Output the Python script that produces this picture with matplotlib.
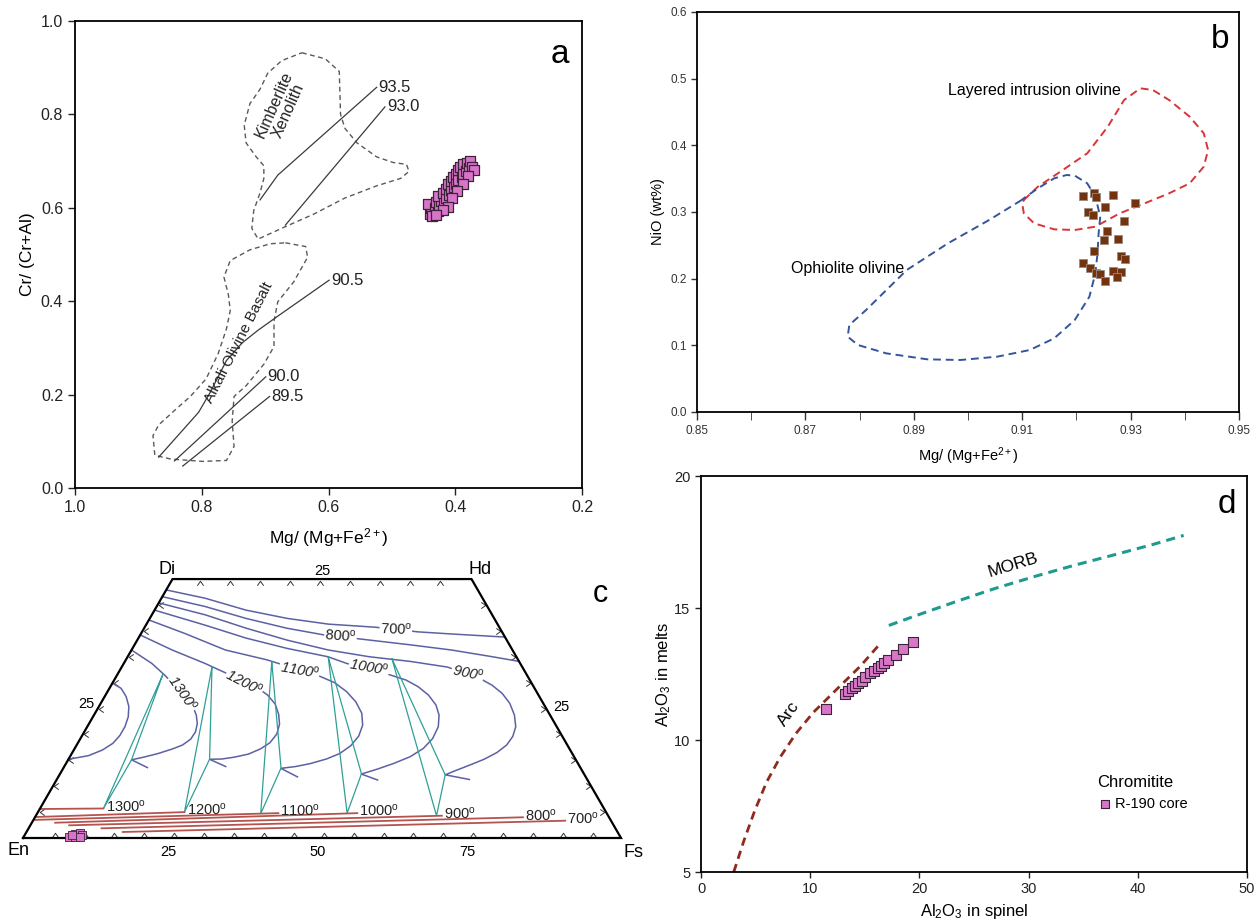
import numpy as np
import matplotlib.pyplot as plt
from matplotlib.path import Path
from matplotlib.markers import MarkerStyle
from matplotlib.transforms import Affine2D

plt.rcParams['font.family'] = ['Liberation Sans', 'DejaVu Sans']
plt.rcParams['mathtext.fontset'] = 'custom'
plt.rcParams['mathtext.rm'] = 'Liberation Sans'
plt.rcParams['mathtext.it'] = 'Liberation Sans:italic'

W, H = 1259, 924

# ---------------- panel a : spinel Cr# vs Mg# ----------------
a_mg = [0.440, 0.435, 0.438, 0.443, 0.432, 0.428, 0.431, 0.425, 0.422, 0.428, 0.418,
        0.420, 0.415, 0.415, 0.410, 0.412, 0.407, 0.407, 0.402, 0.404, 0.399, 0.399,
        0.395, 0.395, 0.390, 0.392, 0.387, 0.387, 0.383, 0.381, 0.378, 0.376, 0.373,
        0.371, 0.380, 0.388, 0.397, 0.405, 0.412, 0.420, 0.437, 0.430]
a_cr = [0.587, 0.590, 0.600, 0.608, 0.600, 0.593, 0.613, 0.605, 0.615, 0.626, 0.612,
        0.632, 0.620, 0.640, 0.628, 0.650, 0.638, 0.657, 0.645, 0.665, 0.652, 0.673,
        0.660, 0.680, 0.665, 0.687, 0.672, 0.693, 0.678, 0.697, 0.685, 0.700, 0.688,
        0.680, 0.668, 0.652, 0.636, 0.621, 0.602, 0.596, 0.582, 0.584]

kimb_x = [0.642, 0.605, 0.583, 0.581, 0.574, 0.555, 0.524, 0.498, 0.477, 0.473, 0.486,
          0.524, 0.574, 0.624, 0.674, 0.711, 0.721, 0.718, 0.708, 0.702, 0.702, 0.714,
          0.730, 0.733, 0.724, 0.708, 0.696, 0.674, 0.642]
kimb_y = [0.932, 0.919, 0.892, 0.800, 0.770, 0.739, 0.709, 0.697, 0.693, 0.678, 0.663,
          0.647, 0.621, 0.586, 0.556, 0.533, 0.556, 0.594, 0.632, 0.663, 0.690, 0.709,
          0.739, 0.777, 0.823, 0.854, 0.888, 0.915, 0.932]

aob_x = [0.668, 0.636, 0.633, 0.655, 0.680, 0.686, 0.686, 0.702, 0.730, 0.749, 0.752,
         0.749, 0.761, 0.799, 0.849, 0.874, 0.877, 0.868, 0.843, 0.818, 0.793, 0.774,
         0.761, 0.755, 0.758, 0.765, 0.755, 0.724, 0.692, 0.668]
aob_y = [0.525, 0.517, 0.494, 0.441, 0.399, 0.357, 0.303, 0.265, 0.219, 0.196, 0.143,
         0.089, 0.059, 0.057, 0.062, 0.070, 0.112, 0.135, 0.166, 0.196, 0.234, 0.288,
         0.341, 0.380, 0.414, 0.452, 0.487, 0.510, 0.523, 0.525]

iso_labels = ['93.5', '93.0', '90.5', '90.0', '89.5']
iso_x = [[0.708, 0.680, 0.524],
         [0.668, 0.511],
         [0.868, 0.805, 0.787, 0.761, 0.736, 0.711, 0.680, 0.599],
         [0.843, 0.699],
         [0.830, 0.693]]
iso_y = [[0.617, 0.670, 0.858],
         [0.563, 0.816],
         [0.066, 0.162, 0.204, 0.273, 0.311, 0.338, 0.368, 0.445],
         [0.058, 0.238],
         [0.047, 0.196]]

# ---------------- panel b : olivine NiO vs Fo ----------------
b_mg = [0.9212, 0.9233, 0.9237, 0.9267, 0.9309, 0.9253, 0.9222, 0.9231, 0.9288, 0.9257,
        0.9251, 0.9277, 0.9232, 0.9282, 0.9290, 0.9213, 0.9226, 0.9237, 0.9244, 0.9268,
        0.9282, 0.9274, 0.9253]
b_nio = [0.324, 0.329, 0.322, 0.3255, 0.314, 0.307, 0.3005, 0.2955, 0.287, 0.272,
         0.258, 0.259, 0.242, 0.234, 0.230, 0.224, 0.2155, 0.209, 0.2075, 0.2115,
         0.2105, 0.203, 0.197]

layered_x = [0.9103, 0.9129, 0.9175, 0.9220, 0.9258, 0.9288, 0.9318, 0.9341, 0.9371,
             0.9409, 0.9435, 0.9443, 0.9435, 0.9409, 0.9371, 0.9326, 0.9280, 0.9235,
             0.9197, 0.9159, 0.9122, 0.9103, 0.9100, 0.9103]
layered_y = [0.318, 0.338, 0.363, 0.388, 0.428, 0.468, 0.4855, 0.483, 0.468, 0.443,
             0.418, 0.393, 0.368, 0.343, 0.328, 0.313, 0.298, 0.278, 0.273, 0.274,
             0.283, 0.298, 0.313, 0.318]

ophio_x = [0.9099, 0.9039, 0.8963, 0.8887, 0.8812, 0.8781, 0.8778, 0.8797, 0.8849, 0.8925,
           0.8986, 0.9054, 0.9114, 0.9159, 0.9197, 0.9224, 0.9235, 0.9239, 0.9241, 0.9244,
           0.9235, 0.9220, 0.9197, 0.9182, 0.9159, 0.9129, 0.9107, 0.9099]
ophio_y = [0.318, 0.288, 0.253, 0.213, 0.153, 0.1305, 0.113, 0.1005, 0.088, 0.079,
           0.078, 0.083, 0.093, 0.1105, 0.138, 0.173, 0.208, 0.238, 0.268, 0.293,
           0.323, 0.343, 0.3545, 0.3555, 0.3505, 0.3355, 0.323, 0.318]

# ---------------- panel c : pyroxene quadrilateral (Fs, Wo in mol%) ----------------
temps = [700, 800, 900, 1000, 1100, 1200, 1300]
aug_fs = {700: [0, 7.3, 15.3, 23.0, 30.4, 38.6, 46.2, 51.9, 61.2],
          800: [0, 8.1, 16.1, 23.9, 30.8, 37.4, 46.1, 53.5, 61.0, 65.9],
          900: [0, 8.9, 17.1, 25.1, 32.9, 40.4, 47.7, 54.5, 61.0, 63.7, 66.2, 68.4, 70.3,
                71.65, 72.1, 71.9, 71.0, 69.5, 67.7, 65.8, 64.5, 69.0],
          1000: [0, 9.9, 18.0, 25.9, 33.5, 37.3, 45.6, 48.8, 51.5, 54.0, 56.2, 57.7, 58.7,
                 58.9, 58.3, 56.9, 54.8, 52.6, 50.4, 53.7],
          1100: [0, 7.3, 15.7, 23.6, 34.1, 37.1, 40.0, 42.5, 44.6, 45.9, 46.3, 45.9, 44.8,
                 43.1, 40.8, 38.7, 36.4, 40.0],
          1200: [0, 6.8, 13.6, 17.9, 24.9, 27.1, 29.2, 30.8, 31.9, 32.4, 32.1, 31.1, 29.6,
                 27.5, 25.6, 23.6, 27.0],
          1300: [0, 4.7, 7.9, 12.7, 15.7, 17.1, 18.1, 18.6, 18.5, 17.7, 16.4, 14.4, 12.35,
                 10.6, 14.0],
          1400: [0, 1.95, 3.6, 5.0, 5.9, 6.3, 6.3, 5.9, 4.8, 3.0, 0]}
aug_wo = {700: [47.9, 46.3, 44.0, 42.4, 41.3, 40.7, 39.8, 39.4, 38.8],
          800: [46.6, 44.7, 42.4, 40.5, 39.2, 38.4, 37.3, 36.3, 35.0, 34.1],
          900: [45.4, 43.1, 40.5, 38.2, 36.3, 35.0, 34.1, 33.0, 30.8, 29.5, 27.9, 26.0, 23.75,
                21.5, 19.6, 17.95, 16.5, 15.2, 14.1, 13.0, 12.2, 11.3],
          1000: [44.0, 41.1, 38.6, 36.6, 35.0, 33.7, 31.5, 30.5, 29.2, 27.6, 25.7, 23.75, 21.5,
                 19.2, 17.3, 15.7, 14.4, 13.3, 12.35, 11.2],
          1100: [42.1, 39.5, 36.3, 34.4, 31.2, 30.0, 28.25, 26.3, 24.1, 21.8, 19.7, 17.8, 16.3,
                 15.25, 14.35, 13.8, 13.45, 11.8],
          1200: [39.2, 36.3, 33.7, 31.9, 28.9, 27.6, 25.9, 23.9, 22.0, 20.1, 18.4, 17.2, 16.2,
                 15.6, 15.25, 15.2, 13.8],
          1300: [36.3, 33.7, 31.5, 27.9, 25.4, 23.75, 22.1, 20.5, 19.1, 17.95, 17.2, 16.3, 15.6,
                 15.1, 13.6],
          1400: [29.9, 28.9, 27.3, 25.4, 23.4, 21.5, 19.8, 18.3, 17.0, 15.9, 15.2]}
aug_label_pos = {700: (42.2, 40.3, -2), 800: (33.6, 39.0, -4), 900: (58.4, 31.9, -12),
                 1000: (41.4, 32.9, -10), 1100: (30.0, 32.5, -10), 1200: (22.0, 30.0, -27),
                 1300: (12.7, 27.9, -55)}

# tie triangles: augite top, augite vertex, orthopyroxene
tie_top = {1300: (7.6, 31.6), 1200: (15.1, 33.0), 1100: (24.6, 34.0), 1000: (33.6, 34.9), 900: (44.4, 34.6)}
tie_vtx = {1300: (10.6, 15.1), 1200: (23.6, 15.2), 1100: (36.4, 13.5), 1000: (50.4, 12.4), 900: (64.5, 12.2)}
tie_opx = {1300: (10.6, 5.7), 1200: (24.5, 5.0), 1100: (37.4, 4.7), 1000: (51.8, 4.8), 900: (67.0, 4.3)}

opx_fs = {1300: [0, 10.6], 1200: [0, 24.5], 1100: [0.2, 40.3], 1000: [3.9, 53.5],
          900: [6.5, 67.9], 800: [12.2, 81.6], 700: [16.1, 89.0]}
opx_wo = {1300: [5.6, 5.7], 1200: [4.05, 5.0], 1100: [3.5, 4.8], 1000: [2.95, 4.8],
          900: [2.45, 4.3], 800: [1.87, 4.0], 700: [1.16, 3.34]}

c_fs = [7.6, 8.3, 9.0, 9.6, 8.6, 9.4, 8.0]
c_wo = [0.2, 0.7, 0.9, 0.6, 0.1, 0.1, 0.5]

# ---------------- panel d : Al2O3 melt vs spinel ----------------
arc_x = [3.0, 3.9, 4.9, 6.0, 7.25, 8.7, 10.3, 12.5, 14.6, 16.3]
arc_y = [5.0, 6.15, 7.3, 8.4, 9.35, 10.25, 11.05, 11.95, 12.8, 13.6]
morb_x = [17.2, 19.75, 23.4, 27.0, 30.6, 34.2, 37.9, 41.5, 44.2]
morb_y = [14.34, 14.72, 15.25, 15.75, 16.2, 16.62, 17.02, 17.42, 17.75]
d_sp = [11.42, 13.19, 13.49, 13.80, 14.1, 14.4, 14.72, 15.02, 15.48, 15.87, 16.18,
        16.48, 16.79, 17.1, 17.86, 18.47, 19.38]
d_melt = [11.17, 11.74, 11.86, 11.97, 12.05, 12.16, 12.24, 12.37, 12.54, 12.63, 12.73,
          12.82, 12.92, 13.04, 13.23, 13.45, 13.73]

PINK = '#d875c9'
PINK_EDGE = '#3b2438'


def px_axes(left, top, right, bottom):
    return [left / W, (H - bottom) / H, (right - left) / W, (bottom - top) / H]


def style_axes(ax, lw=1.3):
    for s in ax.spines.values():
        s.set_linewidth(lw)
    ax.tick_params(direction='out', width=1.0)


def tern(fs, wo):
    fs = np.asarray(fs, dtype=float)
    wo = np.asarray(wo, dtype=float)
    return fs + wo / 2.0, wo * np.sqrt(3) / 2.0


fig = plt.figure(figsize=(W / 100, H / 100), dpi=100)

# ---- a ----
ax = fig.add_axes(px_axes(75, 21, 582, 488))
style_axes(ax)
dash_a = (0, (3.5, 2.5))
ax.plot(kimb_x, kimb_y, ls=dash_a, color='#5a5a5a', lw=1.0)
ax.plot(aob_x, aob_y, ls=dash_a, color='#5a5a5a', lw=1.0)
for lab, xs, ys in zip(iso_labels, iso_x, iso_y):
    ax.plot(xs, ys, color='#3a3a3a', lw=0.9)
    ax.text(xs[-1] - 0.003, ys[-1], lab, fontsize=12, ha='left', va='center', color='#222222')
ax.text(0.675, 0.815, 'Kimberlite\nXenolith', rotation=66, fontsize=11.5, ha='center',
        va='center', linespacing=1.0, color='#222222')
ax.text(0.742, 0.311, 'Alkali Olivine Basalt', rotation=63, fontsize=11, ha='center',
        va='center', color='#222222')
ax.scatter(a_mg, a_cr, marker='s', s=58, facecolor=PINK, edgecolor=PINK_EDGE,
           linewidth=0.9, zorder=3)
ax.set_xlim(1.0, 0.2)
ax.set_ylim(0.0, 1.0)
ax.set_xticks([1.0, 0.8, 0.6, 0.4, 0.2])
ax.set_yticks([0.0, 0.2, 0.4, 0.6, 0.8, 1.0])
ax.xaxis.set_major_formatter('{x:.1f}')
ax.yaxis.set_major_formatter('{x:.1f}')
ax.tick_params(labelsize=11.5, length=5, colors='#222222')
ax.set_xlabel('Mg/ (Mg+Fe$^{2+}$)', fontsize=12.5, labelpad=8)
ax.set_ylabel('Cr/ (Cr+Al)', fontsize=12.5, labelpad=4)
ax.text(0.957, 0.928, 'a', transform=ax.transAxes, fontsize=24, ha='center', va='center')

# ---- b ----
ax = fig.add_axes(px_axes(697, 12, 1239, 412))
style_axes(ax)
dash_b = (0, (4, 2.5))
ax.plot(layered_x, layered_y, ls=dash_b, color='#d8343a', lw=1.4)
ax.plot(ophio_x, ophio_y, ls=dash_b, color='#35549a', lw=1.4)
ax.scatter(b_mg, b_nio, marker='s', s=32, facecolor='#74330f', edgecolor='#9a8a80',
           linewidth=0.6, zorder=3)
ax.text(0.9122, 0.483, 'Layered intrusion olivine', fontsize=11.5, ha='center', va='center')
ax.text(0.8778, 0.2145, 'Ophiolite olivine', fontsize=11.5, ha='center', va='center')
ax.set_xlim(0.85, 0.95)
ax.set_ylim(0.0, 0.6)
ax.set_xticks([0.85, 0.87, 0.89, 0.91, 0.93, 0.95])
ax.set_xticks([0.86, 0.88, 0.90, 0.92, 0.94], minor=True)
ax.set_yticks([0.0, 0.1, 0.2, 0.3, 0.4, 0.5, 0.6])
ax.xaxis.set_major_formatter('{x:.2f}')
ax.yaxis.set_major_formatter('{x:.1f}')
ax.tick_params(axis='x', which='both', length=6, labelsize=8.5, colors='#333333')
ax.tick_params(axis='y', length=4, labelsize=8.5, colors='#333333')
ax.set_xlabel('Mg/ (Mg+Fe$^{2+}$)', fontsize=10.5, labelpad=6)
ax.set_ylabel('NiO (wt%)', fontsize=10.5, labelpad=4)
ax.text(0.965, 0.93, 'b', transform=ax.transAxes, fontsize=24, ha='center', va='center')

# ---- c ----
k = 5.98
ax = fig.add_axes(px_axes(0, 555, 640, 924))
ax.set_xlim((0 - 23) / k, (640 - 23) / k)
ax.set_ylim((838 - 924) / k, (838 - 555) / k)
ax.axis('off')

ox, oy = tern([0, 100, 50, 0, 0], [0, 0, 50, 50, 0])
ax.plot(ox, oy, color='black', lw=1.6, solid_joinstyle='miter', zorder=4)

chev = Path([(-0.7, -0.5), (0, 0.5), (0.7, -0.5)], [Path.MOVETO, Path.LINETO, Path.LINETO])


def chevron(angle):
    return MarkerStyle(chev, fillstyle='none', transform=Affine2D().rotate_deg(angle))


tick_steps = np.arange(5, 100, 5)
tx, ty = tern(tick_steps, np.full(tick_steps.size, 0.6))
ax.plot(tx, ty, ls='none', marker=chevron(0), ms=4.5, mew=0.7, color='#333333')
top_steps = np.arange(5, 50, 5)
tx, ty = tern(top_steps, np.full(top_steps.size, 49.3))
ax.plot(tx, ty, ls='none', marker=chevron(0), ms=4.5, mew=0.7, color='#333333')
side_steps = np.arange(5, 50, 5)
tx, ty = tern(np.full(side_steps.size, 0.6), side_steps)
ax.plot(tx, ty, ls='none', marker=chevron(90), ms=4.5, mew=0.7, color='#333333')
tx, ty = tern(100 - side_steps - 0.6, side_steps)
ax.plot(tx, ty, ls='none', marker=chevron(-90), ms=4.5, mew=0.7, color='#333333')

for t in aug_fs:
    x, y = tern(aug_fs[t], aug_wo[t])
    ax.plot(x, y, color='#5c61a3', lw=1.1, solid_joinstyle='round')
for t in temps:
    fs, wo, rot = aug_label_pos[t]
    x, y = tern(fs, wo)
    ax.text(x, y, f'{t}' + r'$^{\mathrm{o}}$', rotation=rot, fontsize=10.5,
            style='italic' if t >= 900 else 'normal', ha='center', va='center',
            color='#222222', bbox=dict(fc='white', ec='none', pad=0.3), zorder=5)

for t in tie_top:
    pts = [tie_top[t], tie_opx[t], tie_vtx[t], tie_top[t]]
    x, y = tern([p[0] for p in pts], [p[1] for p in pts])
    ax.plot(x, y, color='#2f9f97', lw=0.9)

for t in opx_fs:
    x, y = tern(opx_fs[t], opx_wo[t])
    ax.plot(x, y, color='#b5534f', lw=1.3)
    ax.annotate(f'{t}' + r'$^{\mathrm{o}}$', (x[-1], y[-1]), xytext=(1.5, 1.5),
                textcoords='offset points', fontsize=10.5, ha='left', va='center',
                color='#222222')

x, y = tern(c_fs, c_wo)
ax.scatter(x, y, marker='s', s=26, facecolor=PINK, edgecolor=PINK_EDGE, linewidth=0.6, zorder=6)

for lab, fs, wo, off, ha, va in [('Di', 0, 50, (-4, 0.5), 'center', 'bottom'),
                                 ('Hd', 50, 50, (6, 0.5), 'center', 'bottom'),
                                 ('En', 0, 0, (-3, -3), 'center', 'top'),
                                 ('Fs', 100, 0, (9, -4), 'center', 'top')]:
    x, y = tern(fs, wo)
    ax.annotate(lab, (x, y), xytext=off, textcoords='offset points', fontsize=13,
                ha=ha, va=va)
for v in [25, 50, 75]:
    x, y = tern(v, 0)
    ax.annotate(str(v), (x, y), xytext=(-3, -5), textcoords='offset points',
                fontsize=10.5, ha='center', va='top')
x, y = tern(25, 50)
ax.annotate('25', (x, y), xytext=(0, 0.5), textcoords='offset points', fontsize=10.5,
            ha='center', va='bottom')
x, y = tern(0, 25)
ax.annotate('25', (x, y), xytext=(-2, 3), textcoords='offset points', fontsize=10.5,
            ha='right', va='center')
x, y = tern(75, 25)
ax.annotate('25', (x, y), xytext=(5, 1), textcoords='offset points', fontsize=10.5,
            ha='left', va='center')
ax.text(0.9375, 0.895, 'c', transform=ax.transAxes, fontsize=22, ha='center', va='center')

# ---- d ----
ax = fig.add_axes(px_axes(701, 476, 1247, 872))
style_axes(ax)
ax.plot(arc_x, arc_y, ls=(0, (3, 2)), color='#8e2a1e', lw=2.0)
ax.plot(morb_x, morb_y, ls=(0, (3, 2)), color='#1f9a8f', lw=2.2)
sc = ax.scatter(d_sp, d_melt, marker='s', s=52, facecolor=PINK, edgecolor=PINK_EDGE,
                linewidth=0.8, zorder=3)
ax.text(8.0, 11.0, 'Arc', rotation=55, fontsize=12.5, ha='center', va='center')
ax.text(28.6, 16.62, 'MORB', rotation=17, fontsize=12.5, ha='center', va='center')
ax.legend([sc], ['R-190 core'], title='Chromitite', loc='upper left',
          bbox_to_anchor=(0.715, 0.26), frameon=False, alignment='left',
          fontsize=10.5, title_fontsize=12, markerscale=0.7, handletextpad=0.2,
          handlelength=1.0, borderaxespad=0)
ax.set_xlim(0, 50)
ax.set_ylim(5, 20)
ax.set_xticks([0, 10, 20, 30, 40, 50])
ax.set_yticks([5, 10, 15, 20])
ax.tick_params(labelsize=10.5, length=4, colors='#222222')
ax.set_xlabel('Al$_2$O$_3$ in spinel', fontsize=12, labelpad=4)
ax.set_ylabel('Al$_2$O$_3$ in melts', fontsize=12, labelpad=1)
ax.text(0.963, 0.928, 'd', transform=ax.transAxes, fontsize=24, ha='center', va='center')

fig.savefig('out.png', dpi=100)
